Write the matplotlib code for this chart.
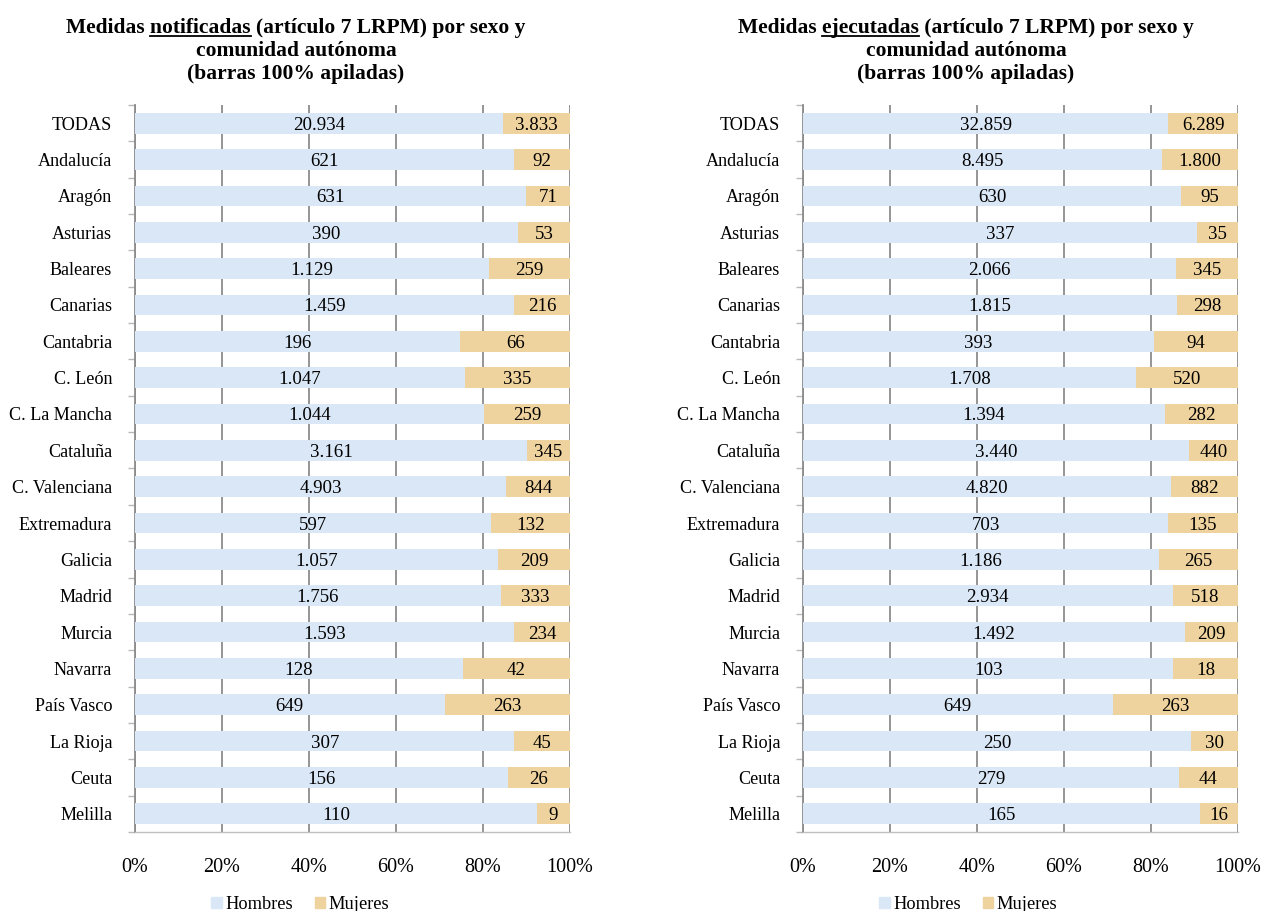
import numpy as np
import matplotlib.pyplot as plt
from matplotlib.lines import Line2D
from matplotlib.patches import Patch

# ==========================================
# Datos
# ==========================================
comunidades = ['TODAS', 'Andalucía', 'Aragón', 'Asturias', 'Baleares', 'Canarias',
               'Cantabria', 'C. León', 'C. La Mancha', 'Cataluña', 'C. Valenciana',
               'Extremadura', 'Galicia', 'Madrid', 'Murcia', 'Navarra', 'País Vasco',
               'La Rioja', 'Ceuta', 'Melilla']

notif_hombres = [20934, 621, 631, 390, 1129, 1459, 196, 1047, 1044, 3161, 4903,
                 597, 1057, 1756, 1593, 128, 649, 307, 156, 110]
notif_mujeres = [3833, 92, 71, 53, 259, 216, 66, 335, 259, 345, 844,
                 132, 209, 333, 234, 42, 263, 45, 26, 9]

ejec_hombres = [32859, 8495, 630, 337, 2066, 1815, 393, 1708, 1394, 3440, 4820,
                703, 1186, 2934, 1492, 103, 649, 250, 279, 165]
ejec_mujeres = [6289, 1800, 95, 35, 345, 298, 94, 520, 282, 440, 882,
                135, 265, 518, 209, 18, 263, 30, 44, 16]

pct_ticks = [0, 20, 40, 60, 80, 100]

COLOR_H = '#dae7f6'
COLOR_M = '#efd39e'
FUENTE = 'Liberation Serif'

plt.rcParams['font.family'] = FUENTE


def fmt(n):
    return f'{n:,}'.replace(',', '.')


def dibujar_panel(ax, hombres, mujeres):
    h = np.array(hombres, dtype=float)
    m = np.array(mujeres, dtype=float)
    tot = h + m
    ph = h / tot * 100
    pm = m / tot * 100
    y = np.arange(len(comunidades))

    ax.barh(y, ph, height=0.57, color=COLOR_H, zorder=3)
    ax.barh(y, pm, left=ph, height=0.57, color=COLOR_M, zorder=3)

    for i in range(len(y)):
        ax.text(ph[i] / 2, y[i], fmt(hombres[i]), ha='center', va='center_baseline',
                fontsize=13.6, color='black', zorder=4)
        ax.text(ph[i] + pm[i] / 2, y[i], fmt(mujeres[i]), ha='center',
                va='center_baseline', fontsize=13.6, color='black', zorder=4)

    ax.set_xlim(0, 100)
    ax.set_ylim(len(y) - 0.5, -0.5)
    ax.set_xticks(pct_ticks)
    ax.set_xticklabels([f'{t}%' for t in pct_ticks], fontsize=14.5)
    ax.set_yticks(y)
    ax.set_yticklabels(comunidades, fontsize=13.1)
    ax.set_yticks(np.arange(len(y) + 1) - 0.5, minor=True)

    ax.tick_params(axis='y', which='major', length=0, pad=16.5)
    ax.tick_params(axis='y', which='minor', length=5, color='#b8b8b8', width=1)
    ax.tick_params(axis='x', length=0, pad=18.5)

    ax.grid(True, axis='x', color='#8c8c8c', linewidth=1.3, zorder=1)
    for s in ['top', 'right']:
        ax.spines[s].set_visible(False)
    ax.spines['left'].set_color('#8c8c8c')
    ax.spines['left'].set_linewidth(1.3)
    ax.spines['bottom'].set_color('#c0c0c0')
    ax.spines['bottom'].set_linewidth(1.0)

    ax.legend(handles=[Patch(color=COLOR_H, label='Hombres'),
                       Patch(color=COLOR_M, label='Mujeres')],
              loc='upper center', bbox_to_anchor=(0.38, -0.075), ncol=2, frameon=False,
              fontsize=13.2, handlelength=0.55, handleheight=0.55, handletextpad=0.2,
              columnspacing=1.2, borderpad=0)


W, H = 1261, 911
fig = plt.figure(figsize=(W / 100, H / 100), dpi=100)

ax1 = fig.add_axes([135 / W, (H - 832) / H, 435 / W, 727 / H])
ax2 = fig.add_axes([803 / W, (H - 832) / H, 435 / W, 727 / H])

dibujar_panel(ax1, notif_hombres, notif_mujeres)
dibujar_panel(ax2, ejec_hombres, ejec_mujeres)

# ==========================================
# Títulos (con palabra subrayada)
# ==========================================
titulos = [(296, 'Medidas ', 'notificadas', ' (artículo 7 LRPM) por sexo y'),
           (966, 'Medidas ', 'ejecutadas', ' (artículo 7 LRPM) por sexo y')]

fig.canvas.draw()
renderer = fig.canvas.get_renderer()

for xc, pre, palabra, post in titulos:
    kw = dict(ha='center', va='center', fontsize=15.5, fontweight='bold')
    t1 = fig.text(xc / W, 1 - 28 / H, pre + palabra + post, **kw)
    fig.text(xc / W, 1 - 51 / H, 'comunidad autónoma', **kw)
    fig.text(xc / W, 1 - 74 / H, '(barras 100% apiladas)', **kw)

    fig.canvas.draw()
    bb = t1.get_window_extent(renderer)
    fp = t1.get_fontproperties()
    w_pre_pal, _, _ = renderer.get_text_width_height_descent(pre + palabra, fp, ismath=False)
    w_pal, _, _ = renderer.get_text_width_height_descent(palabra, fp, ismath=False)
    x0 = bb.x0 + w_pre_pal - w_pal
    x1 = bb.x0 + w_pre_pal
    yl = bb.y0 + 2
    fig.add_artist(Line2D([x0 / W, x1 / W], [yl / H, yl / H], color='black',
                          linewidth=1.3, transform=fig.transFigure))

fig.savefig('out.png', dpi=100)
